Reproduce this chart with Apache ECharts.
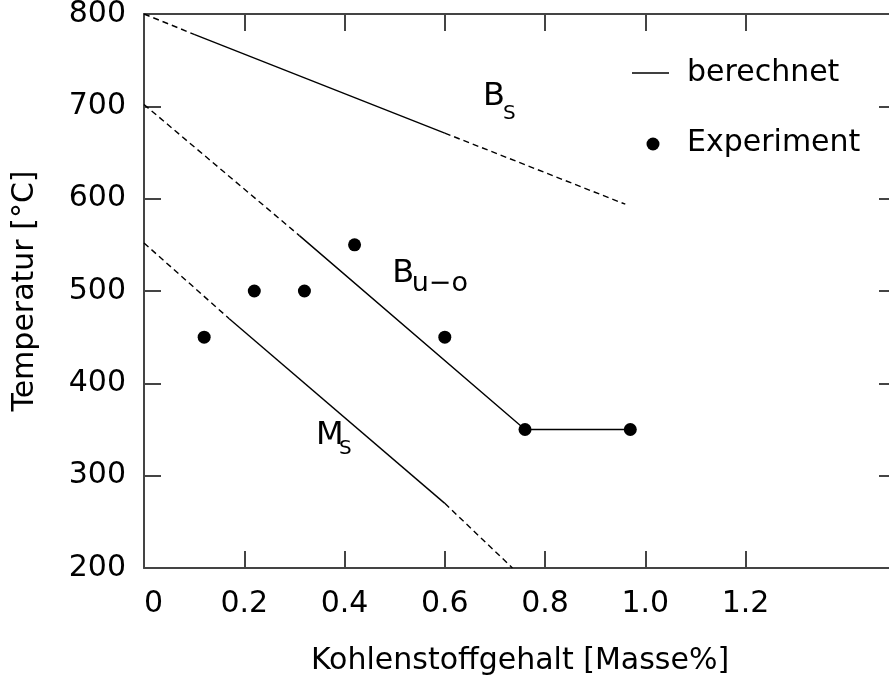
<!DOCTYPE html>
<html>
<head>
<meta charset="utf-8">
<script src="https://cdn.jsdelivr.net/npm/echarts@6/dist/echarts.min.js"></script>
<style>
html,body{margin:0;padding:0;background:#fff;overflow:hidden;}
#chart{width:889px;height:681px;}
</style>
</head>
<body>
<div id="chart"></div>
<script>
// ---- data ----
const xTickValues = [0, 0.2, 0.4, 0.6, 0.8, 1.0, 1.2];
const xTickLabels = ['0', '0.2', '0.4', '0.6', '0.8', '1.0', '1.2'];

// B_S curve
const bsDashedA = [[0, 800], [0.10, 778]];
const bsSolid = [[0.10, 778], [0.60, 671]];
const bsDashedB = [[0.60, 671], [0.96, 594]];
// B_u-o curve
const buoDashed = [[0, 702], [0.31, 560]];
const buoSolid = [[0.31, 560], [0.76, 350], [0.97, 350]];
// M_S curve
const msDashedA = [[0, 552], [0.17, 470]];
const msSolid = [[0.17, 470], [0.60, 270]];
const msDashedB = [[0.60, 270], [0.735, 200]];

// experiment points
const expX = [0.12, 0.22, 0.32, 0.42, 0.60, 0.76, 0.97];
const expY = [450, 500, 500, 550, 450, 350, 350];

// curve annotations (main letter + subscript), anchored in data coordinates
const annotMainX = [0.676, 0.495, 0.343];
const annotMainY = [710, 519, 343];
const annotMainText = ['B', 'B', 'M'];
const annotSubX = [0.716, 0.534, 0.389];
const annotSubY = [692, 508, 329];
const annotSubText = ['S', 'u\u2212o', 'S'];

const xName = 'Kohlenstoffgehalt [Masse%]';
const yName = 'Temperatur [\u00B0C]';
const legendLine = 'berechnet';
const legendDot = 'Experiment';

// ---- chart ----
const FONT = "'DejaVu Sans', sans-serif";
const AX = '#444';
const chart = echarts.init(document.getElementById('chart'), null, {renderer: 'canvas'});

function lineSeries(data, dashed) {
  return {
    type: 'line', data: data, symbol: 'none', silent: true, animation: false,
    lineStyle: {color: '#000', width: 1.4, type: dashed ? [6, 4] : 'solid'},
    z: 2
  };
}

function textSeries(xs, ys, texts, size) {
  return {
    type: 'scatter', symbolSize: 0, silent: true, z: 4,
    itemStyle: {opacity: 1},
    data: xs.map((x, i) => ({value: [x, ys[i]], t: texts[i]})),
    label: {
      show: true, position: [0, 0], align: 'left', verticalAlign: 'middle',
      fontFamily: FONT, fontSize: size, color: '#000',
      formatter: function (p) { return p.data.t; }
    }
  };
}

const expData = expX.map((x, i) => [x, expY[i]]);

const subSeries = textSeries(annotSubX, annotSubY, annotSubText, 20);
subSeries.label.formatter = function (p) { return p.dataIndex === 1 ? '{b|' + p.data.t + '}' : p.data.t; };
subSeries.label.rich = {b: {fontFamily: FONT, fontSize: 27, color: '#000'}};

const axisCommon = {
  axisLine: {show: true, onZero: false, lineStyle: {color: AX, width: 2}},
  splitLine: {show: false}
};

const option = {
  animation: false,
  backgroundColor: '#fff',
  grid: {left: 144, top: 14, width: 752, height: 554, containLabel: false, outerBoundsMode: 'none'},
  xAxis: [Object.assign({
    type: 'value', min: 0, max: 1.5, interval: 0.2, position: 'bottom',
    name: xName, nameLocation: 'middle', nameGap: 78,
    nameTextStyle: {fontFamily: FONT, fontSize: 30, color: '#000'},
    axisTick: {show: true, inside: true, length: 17, lineStyle: {color: AX, width: 2}, customValues: xTickValues},
    axisLabel: {show: true, customValues: xTickValues, margin: 21, fontFamily: FONT, fontSize: 30, color: '#000',
      alignMinLabel: 'left',
      formatter: function (v) { const i = xTickValues.findIndex(t => Math.abs(t - v) < 1e-6); return i >= 0 ? xTickLabels[i] : ''; }}
  }, axisCommon), Object.assign({
    type: 'value', min: 0, max: 1.5, interval: 0.2, position: 'top',
    axisTick: {show: true, inside: true, length: 17, lineStyle: {color: AX, width: 2}, customValues: xTickValues},
    axisLabel: {show: false}
  }, axisCommon)],
  yAxis: [Object.assign({
    type: 'value', min: 200, max: 800, interval: 100, position: 'left',
    name: yName, nameLocation: 'middle', nameGap: 104,
    nameTextStyle: {fontFamily: FONT, fontSize: 30, color: '#000'},
    axisTick: {show: true, inside: true, length: 17, lineStyle: {color: AX, width: 2}},
    axisLabel: {show: true, margin: 18, fontFamily: FONT, fontSize: 30, color: '#000'}
  }, axisCommon), Object.assign({
    type: 'value', min: 200, max: 800, interval: 100, position: 'right',
    axisTick: {show: true, inside: true, length: 17, lineStyle: {color: AX, width: 2}},
    axisLabel: {show: false}
  }, axisCommon)],
  series: [
    lineSeries(bsDashedA, true), lineSeries(bsSolid, false), lineSeries(bsDashedB, true),
    lineSeries(buoDashed, true), lineSeries(buoSolid, false),
    lineSeries(msDashedA, true), lineSeries(msSolid, false), lineSeries(msDashedB, true),
    {
      type: 'scatter', name: legendDot, data: expData, symbol: 'circle', symbolSize: 13,
      itemStyle: {color: '#000', opacity: 1}, z: 3, silent: true
    },
    textSeries(annotMainX, annotMainY, annotMainText, 32),
    subSeries
  ],
  graphic: [
    {type: 'line', shape: {x1: 632, y1: 73, x2: 669, y2: 73}, style: {stroke: '#000', lineWidth: 1.4}},
    {type: 'text', x: 687, y: 73, style: {text: legendLine, fontFamily: FONT, fontSize: 30, fill: '#000', verticalAlign: 'middle'}},
    {type: 'circle', shape: {cx: 653, cy: 144, r: 6.5}, style: {fill: '#000'}},
    {type: 'text', x: 687, y: 143, style: {text: legendDot, fontFamily: FONT, fontSize: 30, fill: '#000', verticalAlign: 'middle'}}
  ]
};
chart.setOption(option);
</script>
</body>
</html>
